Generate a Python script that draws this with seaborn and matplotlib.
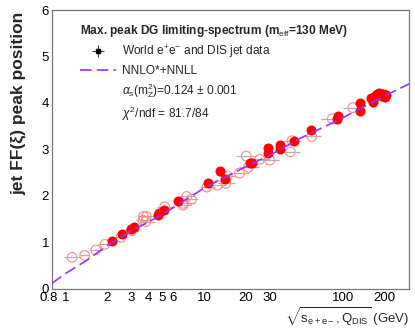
import numpy as np
import matplotlib
matplotlib.use("Agg")
import matplotlib.pyplot as plt
import matplotlib.transforms as mtransforms
import seaborn as sns
from matplotlib.lines import Line2D
from matplotlib.ticker import FixedLocator, FixedFormatter, NullFormatter

# e+e- data (filled): sqrt(s) [GeV], peak position, error
ee_sqrt_s = [2.18, 2.57, 2.97, 3.15, 4.64, 4.74, 5.13, 6.5, 10.6, 13.1, 14.2, 21.5, 22.2,
             29.1, 29.1, 35.5, 35.5, 44.2, 58.6, 91.3, 92.8, 134, 134, 161, 164, 170,
             176, 183, 189, 192, 196, 200, 202, 206]
ee_peak = [1.04, 1.18, 1.28, 1.34, 1.59, 1.64, 1.70, 1.90, 2.27, 2.54, 2.36, 2.70, 2.72,
           3.03, 2.92, 3.10, 3.01, 3.19, 3.42, 3.65, 3.71, 3.99, 3.83, 4.10, 4.03, 4.16,
           4.19, 4.21, 4.17, 4.15, 4.19, 4.16, 4.12, 4.18]
ee_err = [0.03, 0.03, 0.04, 0.04, 0.04, 0.04, 0.05, 0.05, 0.06, 0.06, 0.06, 0.07, 0.07,
          0.08, 0.08, 0.08, 0.08, 0.08, 0.09, 0.08, 0.08, 0.10, 0.10, 0.12, 0.12, 0.12,
          0.12, 0.12, 0.12, 0.12, 0.12, 0.12, 0.12, 0.12]

# DIS data (open): Q [GeV], peak position, Q bin half-widths
dis_q = [1.12, 1.38, 1.66, 1.93, 2.52, 3.0, 3.63, 3.66, 3.8, 3.84, 5.2, 7.05, 7.08, 7.5,
         8.1, 10.5, 12.5, 14.4, 14.7, 18.0, 20.1, 20.9, 25.2, 29.7, 41.9, 43.0, 59.7,
         84.0, 118.0, 180.0]
dis_peak = [0.68, 0.72, 0.84, 0.96, 1.11, 1.25, 1.48, 1.56, 1.45, 1.56, 1.77, 1.80, 1.84,
            1.99, 1.93, 2.19, 2.23, 2.27, 2.43, 2.49, 2.86, 2.62, 2.79, 2.77, 2.95, 3.19,
            3.28, 3.66, 3.90, 4.15]
dis_q_lo = [0.14, 0.1, 0.15, 0.2, 0.25, 0.3, 0.4, 0.4, 0.4, 0.4, 0.6, 0.8, 0.8, 0.8,
            0.9, 1.2, 1.5, 1.8, 1.8, 2.5, 3.0, 3.0, 3.5, 4.0, 6.0, 6.0, 8.0, 14.0, 18.0, 15.0]
dis_q_hi = [0.16, 0.1, 0.2, 0.25, 0.3, 0.4, 0.5, 0.5, 0.6, 0.5, 0.8, 1.0, 1.5, 1.0,
            1.0, 1.5, 1.8, 2.2, 2.2, 3.0, 4.0, 4.0, 4.5, 5.0, 7.0, 7.0, 10.0, 12.0, 15.0, 20.0]

# NNLO*+NNLL curve
curve_x = [0.8, 1.0, 1.4, 2.0, 3.0, 5.0, 10.0, 20.0, 30.0, 50.0, 91.0, 200.0, 300.0]
curve_y = [0.12, 0.33, 0.60, 0.93, 1.25, 1.60, 2.17, 2.63, 2.88, 3.25, 3.62, 4.15, 4.41]

sns.set_style("white")
plt.rcParams["font.family"] = ["Liberation Sans", "DejaVu Sans"]
plt.rcParams["mathtext.fontset"] = "custom"
plt.rcParams["mathtext.rm"] = "Liberation Sans"
plt.rcParams["mathtext.it"] = "Liberation Sans:italic"
plt.rcParams["mathtext.bf"] = "Liberation Sans:bold"

fig = plt.figure(figsize=(4.15, 3.28), dpi=100)
ax = fig.add_axes([0.125, 0.119, 0.8605, 0.8505])

red = "#ff0000"
light = "#ff8a8a"
grey = "#b0b0b0"

# DIS open circles with Q bins
ax.errorbar(dis_q, dis_peak, xerr=[dis_q_lo, dis_q_hi], fmt="none",
            ecolor=grey, elinewidth=0.9, zorder=1)
sns.scatterplot(x=dis_q, y=dis_peak, ax=ax, marker="o", s=48,
                facecolor="none", edgecolor=light, linewidth=0.8, zorder=2)

# e+e- filled circles
ax.errorbar(ee_sqrt_s, ee_peak, yerr=ee_err, fmt="none",
            ecolor=grey, elinewidth=0.9, zorder=3)
sns.scatterplot(x=ee_sqrt_s, y=ee_peak, ax=ax, marker="o", s=52,
                color=red, edgecolor=red, linewidth=0, zorder=4)

# theory curve
sns.lineplot(x=curve_x, y=curve_y, ax=ax, color="#9b30ff", linewidth=1.2,
             dashes=False, zorder=5)
ax.lines[-1].set_dashes((7, 3))

ax.set_xscale("log")
ax.set_xlim(0.8, 300)
ax.set_ylim(0, 6)

ax.xaxis.set_major_locator(FixedLocator([1, 10, 100]))
ax.xaxis.set_major_formatter(FixedFormatter(["1", "10", "100"]))
minor_pos = [0.8, 0.9, 2, 3, 4, 5, 6, 7, 8, 9, 20, 30, 40, 50, 60, 70, 80, 90, 200, 300]
minor_lab = ["0.8", "", "2", "3", "4", "5", "6", "", "", "", "20", "30", "", "", "", "",
             "", "", "200", ""]
ax.xaxis.set_minor_locator(FixedLocator(minor_pos))
ax.xaxis.set_minor_formatter(FixedFormatter(minor_lab))
ax.yaxis.set_major_locator(FixedLocator([0, 1, 2, 3, 4, 5, 6]))
ax.yaxis.set_minor_locator(FixedLocator(np.arange(0, 6.01, 0.2)))
ax.yaxis.set_minor_formatter(NullFormatter())

ax.tick_params(which="both", direction="in", color="#555555", labelsize=9.5,
               top=False, right=False, labelcolor="black")
ax.tick_params(which="major", length=8, width=0.8, pad=2)
ax.tick_params(which="minor", length=4, width=0.6, pad=2)
for sp in ax.spines.values():
    sp.set_color("#777777")
    sp.set_linewidth(0.9)

# nudge the 0.8 label so it just touches the 1 label
shift = mtransforms.ScaledTranslation(-3 / 100, 0, fig.dpi_scale_trans)
lab08 = ax.xaxis.get_minor_ticks()[0].label1
lab08.set_transform(lab08.get_transform() + shift)

ax.set_ylabel("jet FF(ξ) peak position", fontsize=12.5, fontweight="bold")
ax.yaxis.set_label_coords(-0.072, 0.995, transform=ax.transAxes)
ax.yaxis.label.set_horizontalalignment("right")
ax.set_xlabel(r"$\sqrt{\mathrm{s}_{\mathrm{e+e-}},\mathrm{Q}_{\mathrm{DIS}}}$ (GeV)",
              fontsize=9.5, loc="right", labelpad=1)

# legend
h_data = ax.errorbar([np.nan], [np.nan], xerr=[1], yerr=[1], fmt="s", color="black",
                     ms=3.5, ecolor="#444444", elinewidth=0.8)
h_line = Line2D([], [], color="#9b30ff", linewidth=1.2, dashes=(7, 3))
h_blank = Line2D([], [], linestyle="none")
leg = ax.legend([h_data, h_line, h_blank, h_blank],
                ["World e$^{+}$e$^{-}$ and DIS jet data", "NNLO*+NNLL",
                 r"$\alpha_{\mathrm{s}}$(m$^{2}_{\mathrm{Z}}$)=0.124 $\pm$ 0.001",
                 r"$\chi^{2}$/ndf = 81.7/84"],
                title=r"Max. peak DG limiting-spectrum (m$_{\mathrm{eff}}$=130 MeV)",
                loc="upper left", bbox_to_anchor=(0.065, 0.97), frameon=False,
                fontsize=8.6, handlelength=3.0, handletextpad=0.5,
                labelspacing=0.38, borderaxespad=0)
leg.get_title().set_fontweight("bold")
leg.get_title().set_fontsize(8.6)
leg._legend_box.align = "left"

fig.savefig("out.png", dpi=100)
